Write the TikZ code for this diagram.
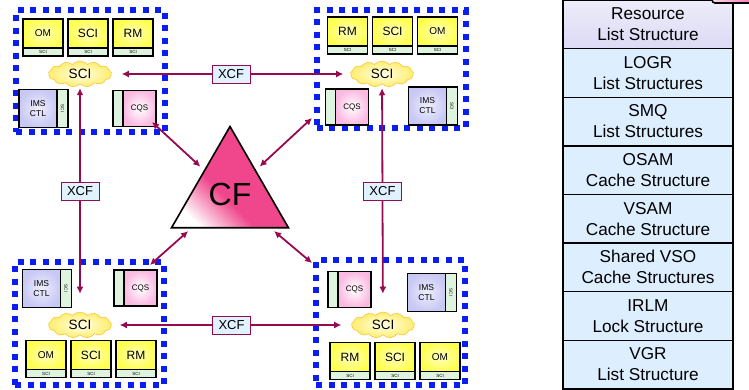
\documentclass[tikz,border=0pt]{standalone}
\usepackage{fontspec}
\setmainfont{Liberation Sans}
\usetikzlibrary{arrows.meta,positioning,shapes.geometric,shapes.symbols}

\definecolor{dotblue}{RGB}{10,30,240}
\definecolor{linkred}{RGB}{150,10,80}
\definecolor{modyellow}{RGB}{255,255,80}
\definecolor{stripgreen}{RGB}{222,244,222}
\definecolor{imsblue}{RGB}{200,200,245}
\definecolor{cqspink}{RGB}{250,185,225}
\definecolor{cfpink}{RGB}{240,70,140}
\definecolor{listblue}{RGB}{221,238,255}
\definecolor{reslilac}{RGB}{220,218,245}
\definecolor{xcffill}{RGB}{225,242,255}
\definecolor{cloudyellow}{RGB}{255,238,110}
\definecolor{cloudedge}{RGB}{245,200,60}

\pgfdeclareverticalshading{cfshade}{100bp}{color(0bp)=(white); color(24bp)=(white); color(42bp)=(cfpink); color(72bp)=(cfpink); color(100bp)=(cfpink!55!white)}

\begin{document}
\begin{tikzpicture}[
  x=1pt, y=-1pt,
  grp/.style={draw=dotblue, line width=6pt, dash pattern=on 6pt off 6.5pt, minimum width=149pt, inner sep=0pt},
  ymod/.style={draw, line width=1.6pt, shade, inner color=yellow!25, outer color=modyellow, minimum width=40pt, minimum height=29pt, inner sep=0pt, outer sep=0pt, font=\fontsize{12}{13}\selectfont},
  ystrip/.style={draw, line width=1.2pt, fill=stripgreen, minimum width=40pt, minimum height=8pt, inner sep=0pt, outer sep=0pt, font=\fontsize{4.5}{5}\selectfont},
  imsbox/.style={draw, line width=1.6pt, shade, inner color=imsblue!30, outer color=imsblue, minimum width=38pt, minimum height=38pt, align=center, inner sep=0pt, outer sep=0pt, font=\fontsize{8.5}{10}\selectfont},
  cqsbox/.style={draw, line width=1.6pt, shade, inner color=white, outer color=cqspink, minimum width=33pt, minimum height=36pt, inner sep=0pt, outer sep=0pt, font=\fontsize{8}{9.5}\selectfont},
  vstrip/.style={draw, line width=1.6pt, fill=stripgreen, minimum width=11pt, minimum height=38pt, inner sep=0pt, outer sep=0pt, font=\fontsize{4.5}{5}\selectfont},
  cstrip/.style={vstrip, minimum width=10pt, minimum height=36pt},
  scicloud/.style={cloud, cloud puffs=13, cloud puff arc=100, aspect=2.4, draw=cloudedge, line width=0.6pt, shade, inner color=yellow!8, outer color=cloudyellow, minimum width=63pt, minimum height=26pt, inner sep=0pt, font=\fontsize{13.5}{15}\selectfont},
  xcf/.style={draw, thin, fill=xcffill, minimum width=38pt, minimum height=18pt, inner sep=0pt, font=\fontsize{13}{14}\selectfont},
  link/.style={{Latex[length=7pt,width=7pt]}-{Latex[length=7pt,width=7pt]}, line width=1.8pt, draw=linkred},
  cfnode/.style={regular polygon, regular polygon sides=3, draw, line width=1.6pt, minimum size=135pt, inner sep=0pt, shading=cfshade, shading angle=-45, font=\fontsize{32}{34}\selectfont},
  slot/.style={draw, line width=1.4pt, fill=listblue, minimum width=170pt, minimum height=48.6pt, align=center, inner sep=0pt, outer sep=0pt, font=\fontsize{17.2}{21}\selectfont}
]
\useasboundingbox (0,0) rectangle (749,389);

\node[grp, minimum height=122pt] (tlgrp) at (90.5,71) {};
\node[grp, minimum height=118pt] (trgrp) at (391,69) {};
\node[grp, minimum height=123pt] (blgrp) at (89.5,323.5) {};
\node[grp, minimum height=125pt] (brgrp) at (390.5,322.5) {};

\node[ymod, font=\fontsize{10}{11}\selectfont] (tlom) at (43,33.5) {OM};
\node[ymod, right=5pt of tlom] (tlsci) {SCI};
\node[ymod, right=5pt of tlsci] (tlrm) {RM};
\node[ystrip, below=0pt of tlom] (tloms) {SCI};
\node[ystrip, below=0pt of tlsci] (tlscis) {SCI};
\node[ystrip, below=0pt of tlrm] (tlrms) {SCI};
\node[scicloud] (tlcloud) at (80,74) {SCI};
\node[imsbox] (tlims) at (38,108.5) {IMS\\CTL};
\node[vstrip, right=0pt of tlims] (tlimss) {\rotatebox{-90}{SCI}};
\node[cqsbox] (tlcqs) at (139.5,108.5) {CQS};
\node[cstrip, left=0pt of tlcqs] (tlcqss) {};

\node[ymod] (trrm) at (347.5,31.5) {RM};
\node[ymod, right=5pt of trrm] (trsci) {SCI};
\node[ymod, right=5pt of trsci, font=\fontsize{10}{11}\selectfont] (trom) {OM};
\node[ystrip, below=0pt of trrm] (trrms) {SCI};
\node[ystrip, below=0pt of trsci] (trscis) {SCI};
\node[ystrip, below=0pt of trom] (troms) {SCI};
\node[scicloud] (trcloud) at (382,74) {SCI};
\node[cqsbox] (trcqs) at (352,107) {CQS};
\node[cstrip, left=0pt of trcqs] (trcqss) {};
\node[imsbox] (trims) at (427.5,106) {IMS\\CTL};
\node[vstrip, right=0pt of trims] (trimss) {\rotatebox{-90}{SCI}};

\node[imsbox] (blims) at (41.5,288.5) {IMS\\CTL};
\node[vstrip, right=0pt of blims] (blimss) {\rotatebox{-90}{SCI}};
\node[cqsbox] (blcqs) at (140.5,288) {CQS};
\node[cstrip, left=0pt of blcqs] (blcqss) {};
\node[scicloud] (blcloud) at (80,325) {SCI};
\node[ymod, font=\fontsize{10}{11}\selectfont] (blom) at (46,355) {OM};
\node[ymod, right=5pt of blom] (blsci) {SCI};
\node[ymod, right=5pt of blsci] (blrm) {RM};
\node[ystrip, below=0pt of blom] (bloms) {SCI};
\node[ystrip, below=0pt of blsci] (blscis) {SCI};
\node[ystrip, below=0pt of blrm] (blrms) {SCI};

\node[cqsbox] (brcqs) at (354.5,289.5) {CQS};
\node[cstrip, left=0pt of brcqs] (brcqss) {};
\node[imsbox] (brims) at (426.5,292.5) {IMS\\CTL};
\node[vstrip, right=0pt of brims] (brimss) {\rotatebox{-90}{SCI}};
\node[scicloud] (brcloud) at (383,325) {SCI};
\node[ymod] (brrm) at (350,357) {RM};
\node[ymod, right=5pt of brrm] (brsci) {SCI};
\node[ymod, right=5pt of brsci, font=\fontsize{10}{11}\selectfont] (brom) {OM};
\node[ystrip, below=0pt of brrm] (brrms) {SCI};
\node[ystrip, below=0pt of brsci] (brscis) {SCI};
\node[ystrip, below=0pt of brom] (broms) {SCI};

\node[cfnode] (cf) at (230,194) {CF};

\coordinate (tlend) at (152,122);
\coordinate (trend) at (312,118);
\coordinate (blend) at (150,265);
\coordinate (brend) at (312,263);

\draw[link, shorten <=10pt, shorten >=7pt] (tlcloud) -- node[xcf] (xcftop) {XCF} (trcloud);
\draw[link, shorten <=8pt, shorten >=10pt] (blcloud) -- node[xcf] (xcfbot) {XCF} (brcloud);
\draw[link, shorten <=4pt, shorten >=18pt] (tlcloud) -- node[xcf, pos=0.47] (xcfleft) {XCF} (blcloud);
\draw[link, shorten <=4pt, shorten >=18pt] (trcloud) -- node[xcf, pos=0.47] (xcfright) {XCF} (brcloud);
\draw[link, shorten >=5pt] (tlend) -- (cf);
\draw[link, shorten >=5pt] (trend) -- (cf);
\draw[link, shorten >=4pt] (blend) -- (cf);
\draw[link, shorten >=4pt] (brend) -- (cf);

\node[slot, anchor=north west, shade, top color=reslilac!50!white, bottom color=reslilac] (res) at (563,0) {Resource\\List Structure};
\node[slot, below=0pt of res] (logr) {LOGR\\List Structures};
\node[slot, below=0pt of logr] (smq) {SMQ\\List Structures};
\node[slot, below=0pt of smq] (osam) {OSAM\\Cache Structure};
\node[slot, below=0pt of osam] (vsam) {VSAM\\Cache Structure};
\node[slot, below=0pt of vsam] (vso) {Shared VSO\\Cache Structures};
\node[slot, below=0pt of vso] (irlm) {IRLM\\Lock Structure};
\node[slot, below=0pt of irlm] (vgr) {VGR\\List Structure};
\node[draw, line width=1.6pt, rounded corners=3pt, left color=cqspink!60, right color=cfpink, minimum width=66pt, minimum height=22pt] (peek) at (745,-8) {};
\end{tikzpicture}
\end{document}
